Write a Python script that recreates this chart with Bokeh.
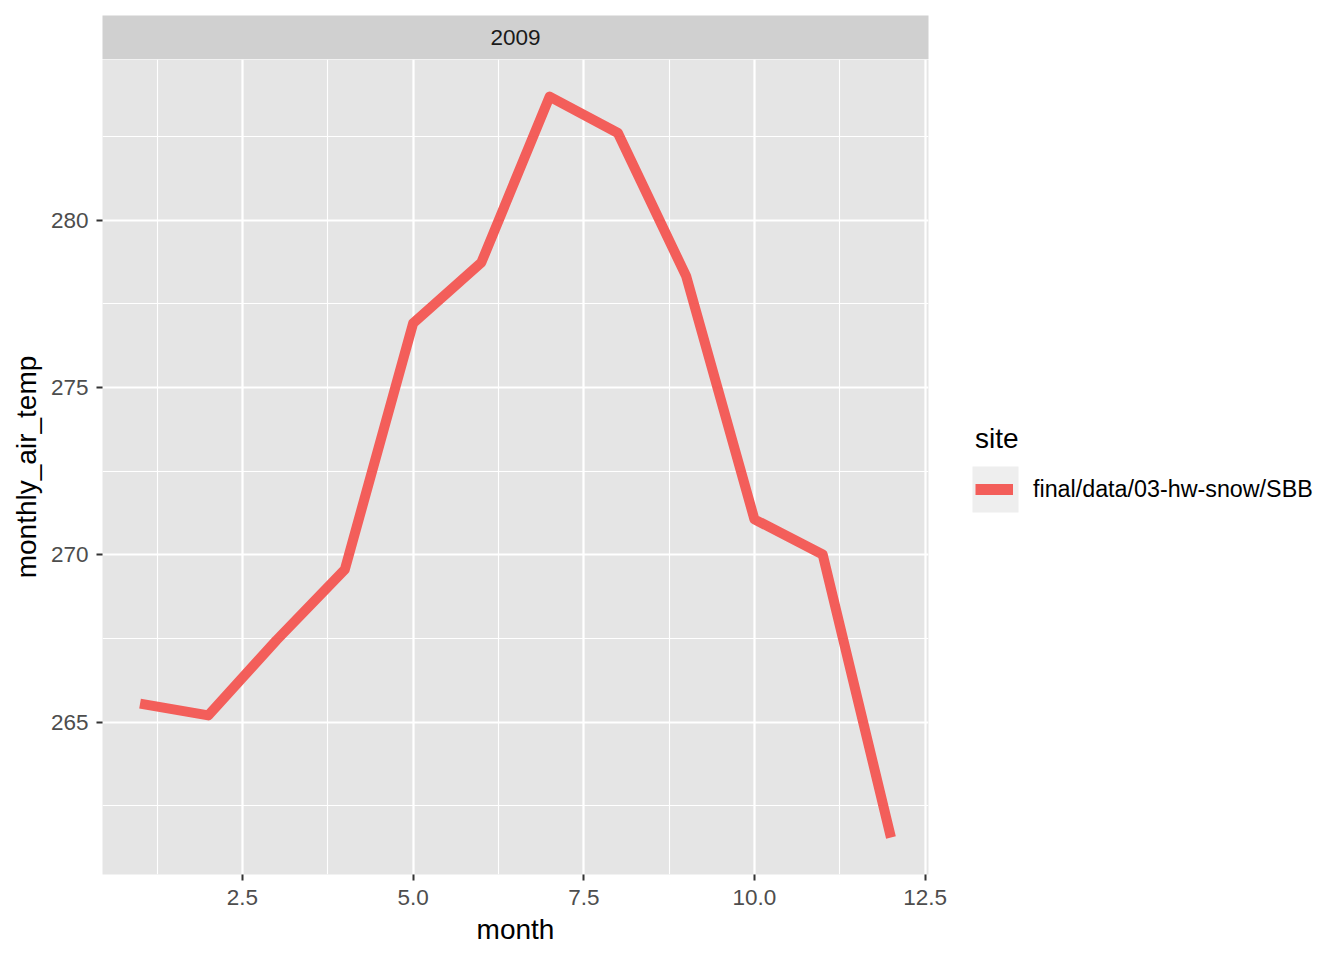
from bokeh.plotting import figure
from bokeh.models import (Range1d, FixedTicker, Legend, LegendItem, BoxAnnotation,
                          ColumnDataSource, NumeralTickFormatter)
from bokeh.layouts import column, row
from bokeh.embed import file_html
from bokeh.resources import INLINE
from bokeh.core.properties import value

# ---- data ----
months = [1, 2, 3, 4, 5, 6, 7, 8, 9, 10, 11, 12]
monthly_air_temp = [265.55, 265.20, 267.45, 269.56, 276.92, 278.74,
                    283.70, 282.61, 278.33, 271.06, 270.01, 261.55]
site_label = "final/data/03-hw-snow/SBB"
facet_year = "2009"
x_major = [2.5, 5.0, 7.5, 10.0, 12.5]
x_minor = [1.25, 3.75, 6.25, 8.75, 11.25]
y_major = [265, 270, 275, 280]
y_minor = [262.5, 267.5, 272.5, 277.5, 282.5]

FONT = "Liberation Sans"
LINE_COLOR = "#F35E5A"
PANEL_BG = "#E5E5E5"
STRIP_BG = "#D0D0D0"

W_MAIN = 952
B_LEFT = 102
B_RIGHT = W_MAIN - 928
STRIP_FIG_H = 59
MAIN_H = 893
B_BOTTOM = MAIN_H - 815
W_LEG = 376
H_TOTAL = STRIP_FIG_H + MAIN_H

def expand(vals, mult=0.05):
    lo, hi = min(vals), max(vals)
    d = (hi - lo) * mult
    return lo - d, hi + d

x0, x1 = expand(months)
y0, y1 = expand(monthly_air_temp)

src = ColumnDataSource(dict(month=months, temp=monthly_air_temp))

# ---- facet strip ----
strip = figure(width=W_MAIN, height=STRIP_FIG_H, min_border_left=B_LEFT, min_border_right=B_RIGHT,
               min_border_top=15, min_border_bottom=0, x_range=Range1d(0, 1), y_range=Range1d(0, 1),
               x_axis_type=None, y_axis_type=None, toolbar_location=None, output_backend="svg")
strip.background_fill_color = STRIP_BG
strip.border_fill_color = "white"
strip.outline_line_color = None
strip.grid.visible = False
strip.text(x=[0.5], y=[0.5], text=[facet_year], text_align="center", text_baseline="middle",
           text_font=value(FONT), text_font_size="22.5px", text_color="#1A1A1A")

# ---- main panel ----
p = figure(width=W_MAIN, height=MAIN_H, min_border_left=B_LEFT, min_border_right=B_RIGHT,
           min_border_top=0, min_border_bottom=B_BOTTOM,
           x_range=Range1d(x0, x1), y_range=Range1d(y0, y1),
           toolbar_location=None, output_backend="svg")
p.background_fill_color = PANEL_BG
p.border_fill_color = "white"
p.outline_line_color = None

p.xaxis.ticker = FixedTicker(ticks=x_major, minor_ticks=x_minor)
p.yaxis.ticker = FixedTicker(ticks=y_major, minor_ticks=y_minor)
p.xaxis.formatter = NumeralTickFormatter(format="0.0")
for ax in p.axis:
    ax.axis_line_color = None
    ax.major_tick_line_color = "#333333"
    ax.major_tick_line_width = 2
    ax.major_tick_out = 6
    ax.major_tick_in = 0
    ax.minor_tick_line_color = None
    ax.major_label_text_font = FONT
    ax.major_label_text_font_size = "22.5px"
    ax.major_label_text_color = "#4D4D4D"
    ax.axis_label_text_font = FONT
    ax.axis_label_text_font_size = "28px"
    ax.axis_label_text_color = "black"
    ax.axis_label_text_font_style = "normal"
p.xaxis.axis_label = "month"
p.yaxis.axis_label = "monthly_air_temp"
p.xaxis.major_label_standoff = 9
p.yaxis.major_label_standoff = 8
p.xaxis.axis_label_standoff = 6
p.yaxis.axis_label_standoff = 6

p.grid.grid_line_color = "white"
p.grid.grid_line_width = 2.2
p.grid.minor_grid_line_color = "white"
p.grid.minor_grid_line_width = 1.1

r = p.line(x="month", y="temp", source=src, line_color=LINE_COLOR, line_width=10,
           line_join="round", line_cap="butt")

# ---- legend panel ----
lf = figure(width=W_LEG, height=H_TOTAL, min_border=0, min_border_left=0, min_border_right=0,
            min_border_top=0, min_border_bottom=0,
            x_range=Range1d(-2, -1), y_range=Range1d(-2, -1),
            x_axis_type=None, y_axis_type=None, toolbar_location=None, output_backend="svg")
lf.background_fill_color = "white"
lf.border_fill_color = "white"
lf.outline_line_color = None
lf.grid.visible = False

key_bg = BoxAnnotation(left=972 - W_MAIN, right=1018 - W_MAIN, top=466, bottom=512,
                       left_units="canvas", right_units="canvas",
                       top_units="canvas", bottom_units="canvas",
                       fill_color="#EEEEEE", fill_alpha=1, line_color=None, level="underlay")
lf.add_layout(key_bg)

# same series drawn off-view in the legend panel, only so its legend glyph is drawn
lr = lf.line(x="month", y="temp", source=src, line_color=LINE_COLOR, line_width=11, line_cap="butt")
legend = Legend(items=[LegendItem(label=site_label, renderers=[lr])],
                location=(975 - W_MAIN, H_TOTAL - 512), title="site",
                title_text_font=FONT, title_text_font_size="28px", title_text_color="black",
                title_text_font_style="normal", title_standoff=11,
                label_text_font=FONT, label_text_font_size="23.3px", label_text_color="black",
                label_standoff=20, glyph_width=38, glyph_height=46, label_height=46,
                padding=0, margin=0, spacing=0, border_line_color=None,
                background_fill_alpha=0)
lf.add_layout(legend)

layout = row(column(strip, p, spacing=0), lf, spacing=0)
open("out.html", "w").write(file_html(layout, INLINE))
